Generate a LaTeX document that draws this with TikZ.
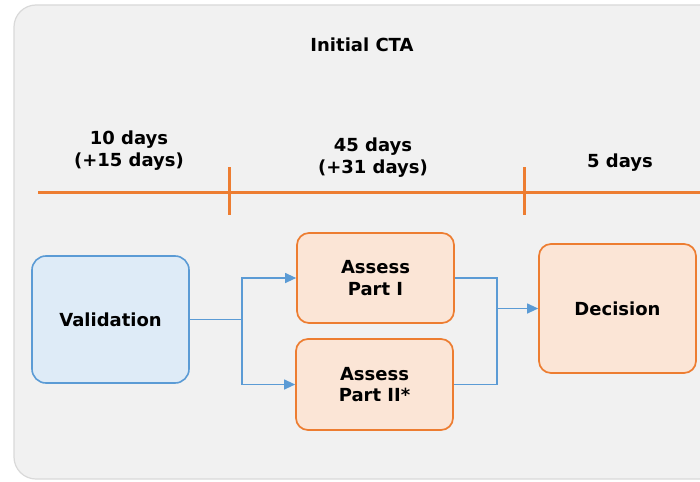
\documentclass[tikz,border=0pt]{standalone}
\usepackage{fontspec}
\setmainfont{DejaVu Sans}
\usetikzlibrary{arrows.meta}
\definecolor{bggray}{HTML}{F1F1F1}
\definecolor{bordergray}{HTML}{D9D9D9}
\definecolor{orng}{HTML}{ED7D31}
\definecolor{orngfill}{HTML}{FBE5D6}
\definecolor{blu}{HTML}{5B9BD5}
\definecolor{blufill}{HTML}{DEEBF7}
\tikzset{
  lbl/.style={font=\fontsize{18}{22}\selectfont\bfseries, align=center, inner sep=0pt},
  obox/.style={draw=orng, fill=orngfill, line width=1.7pt, rounded corners=12pt, align=center,
    font=\fontsize{18}{21.5}\selectfont\bfseries},
  bbox/.style={draw=blu, fill=blufill, line width=1.6pt, rounded corners=14pt, align=center,
    font=\fontsize{18}{21.5}\selectfont\bfseries},
  tl/.style={draw=orng, line width=3pt},
  conn/.style={draw=blu, line width=1.2pt},
  arr/.style={conn, -{Triangle[length=11pt,width=10pt]}}
}
\begin{document}
\begin{tikzpicture}[x=1pt,y=-1pt]
\useasboundingbox (0,0) rectangle (700,481);
\clip (0,0) rectangle (700,481);
\fill[white] (0,0) rectangle (700,481);
\draw[rounded corners=22pt, fill=bggray, draw=bordergray, line width=1.2pt] (14,5) rectangle (735,479);

\node[lbl] (title) at (362,45) {Initial CTA};

% timeline
\coordinate (tlA) at (38,192);
\coordinate (tlB) at (700,192);
\draw[tl] (tlA) -- (tlB);
\coordinate (t1a) at (229,167);
\coordinate (t1b) at (229,215);
\coordinate (t2a) at (524,167);
\coordinate (t2b) at (524,215);
\draw[tl] (t1a) -- (t1b);
\draw[tl] (t2a) -- (t2b);

\node[lbl] (d1) at (129,151) {10 days\\(+15 days)};
\node[lbl] (d2) at (373,158) {45 days\\(+31 days)};
\node[lbl] (d3) at (620,163) {5 days};

% boxes
\node[bbox, minimum width=157pt, minimum height=127pt] (val) at (110.5,319.5) {Validation};
\node[obox, minimum width=157pt, minimum height=90pt] (a1) at (375.5,278) {Assess\\Part I};
\node[obox, minimum width=157pt, minimum height=91pt] (a2) at (374.5,384.5) {Assess\\Part II*};
\node[obox, minimum width=157pt, minimum height=129pt] (dec) at (617.5,308.5) {Decision};

% connectors
\coordinate (j1) at (242,319.5);
\coordinate (j2) at (497,308.5);
\draw[conn] (val.east) -- (j1);
\draw[arr] (j1) |- (a1.west);
\draw[arr] (j1) |- (a2.west);
\draw[conn] (a1.east) -| (j2);
\draw[conn] (a2.east) -| (j2);
\draw[arr] (j2) -- (dec.west);
\end{tikzpicture}
\end{document}
